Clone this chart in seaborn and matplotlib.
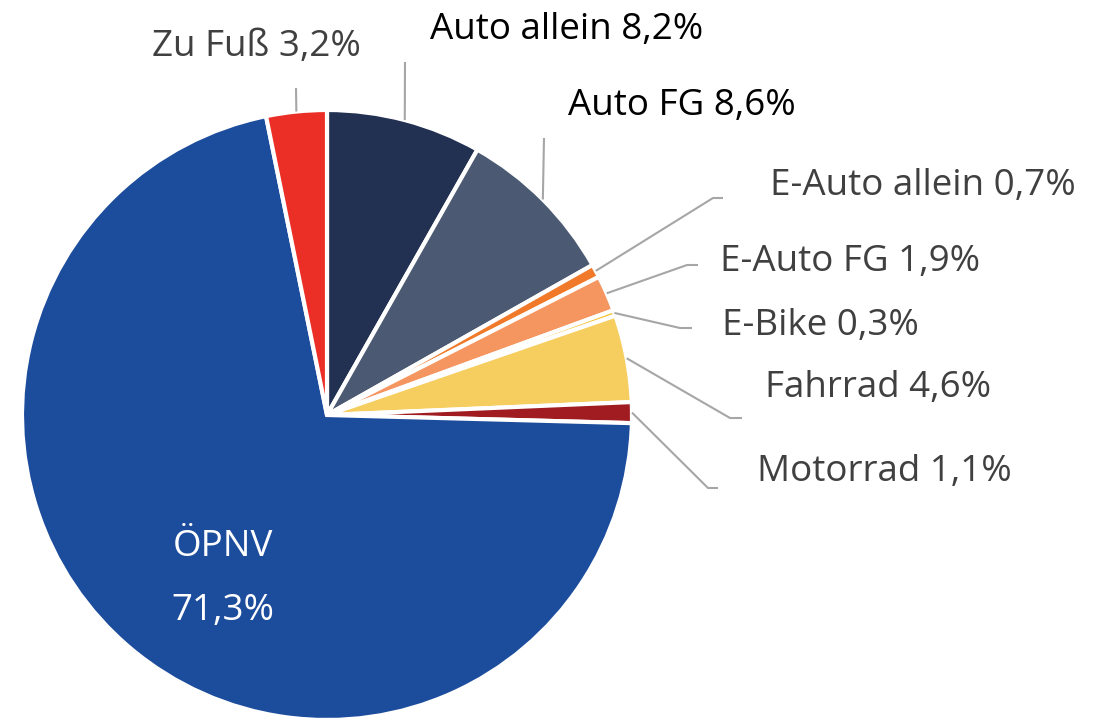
import numpy as np
import matplotlib
matplotlib.use("Agg")
import matplotlib.pyplot as plt
import seaborn as sns

# Data
modes = ['Auto allein', 'Auto FG', 'E-Auto allein', 'E-Auto FG', 'E-Bike',
         'Fahrrad', 'Motorrad', 'ÖPNV', 'Zu Fuß']
shares = [8.2, 8.6, 0.7, 1.9, 0.3, 4.6, 1.1, 71.3, 3.2]
labels = ['Auto allein 8,2%', 'Auto FG 8,6%', 'E-Auto allein 0,7%', 'E-Auto FG 1,9%',
          'E-Bike 0,3%', 'Fahrrad 4,6%', 'Motorrad 1,1%', 'ÖPNV', 'Zu Fuß 3,2%']
pct_labels = ['8,2%', '8,6%', '0,7%', '1,9%', '0,3%', '4,6%', '1,1%', '71,3%', '3,2%']
colors = ['#223152', '#4B5A72', '#F07A2A', '#F5955F', '#F4C232',
          '#F6CE5F', '#A11C21', '#1C4C9C', '#EC2F26']

sns.set_theme(style='white')
plt.rcParams['font.family'] = ['Open Sans', 'DejaVu Sans']

W, H = 1099, 718
fig = plt.figure(figsize=(W / 100, H / 100), dpi=100)
ax = fig.add_axes([0, 0, 1, 1])

cx, cy, R = 327, 415, 305   # pixel coords (y down)
ax.pie(shares, colors=colors, startangle=90, counterclock=False,
       center=(cx, H - cy), radius=R,
       wedgeprops=dict(edgecolor='white', linewidth=3))
ax.set_xlim(0, W)
ax.set_ylim(0, H)
ax.set_aspect('equal')
ax.axis('off')

# label layout: text x, text y, elbow points (pixel coords), colour
layout = {
    'Auto allein':   (430, 30,  [(405, 62)], '#000000'),
    'Auto FG':       (568, 106, [(544, 138)], '#000000'),
    'E-Auto allein': (770, 186, [(713, 198), (723, 198)], '#404040'),
    'E-Auto FG':     (720, 262, [(687, 265), (698, 265)], '#404040'),
    'E-Bike':        (722, 326, [(680, 328), (692, 328)], '#404040'),
    'Fahrrad':       (765, 388, [(730, 418), (742, 418)], '#404040'),
    'Motorrad':      (757, 472, [(708, 488), (718, 488)], '#404040'),
    'Zu Fuß':        (152, 47,  [(296, 88)], '#404040'),
}

fs = 26.5
cum = np.cumsum([0] + shares[:-1])
total = sum(shares)
for mode, lab, pct, start, val in zip(modes, labels, pct_labels, cum, shares):
    theta = np.deg2rad((start + val / 2) / total * 360)
    px = cx + R * np.sin(theta)
    py = cy - R * np.cos(theta)
    if mode == 'ÖPNV':
        ax.text(223, H - 547, lab, color='white', fontsize=fs, ha='center', va='center')
        ax.text(223, H - 611, pct, color='white', fontsize=fs, ha='center', va='center')
        continue
    tx, ty, pts, col = layout[mode]
    xs = [px] + [p[0] for p in pts]
    ys = [H - py] + [H - p[1] for p in pts]
    ax.plot(xs, ys, color='#A6A6A6', lw=1.5, solid_capstyle='butt')
    ax.text(tx, H - ty, lab, color=col, fontsize=fs, ha='left', va='center')

fig.savefig('out.png', dpi=100)
